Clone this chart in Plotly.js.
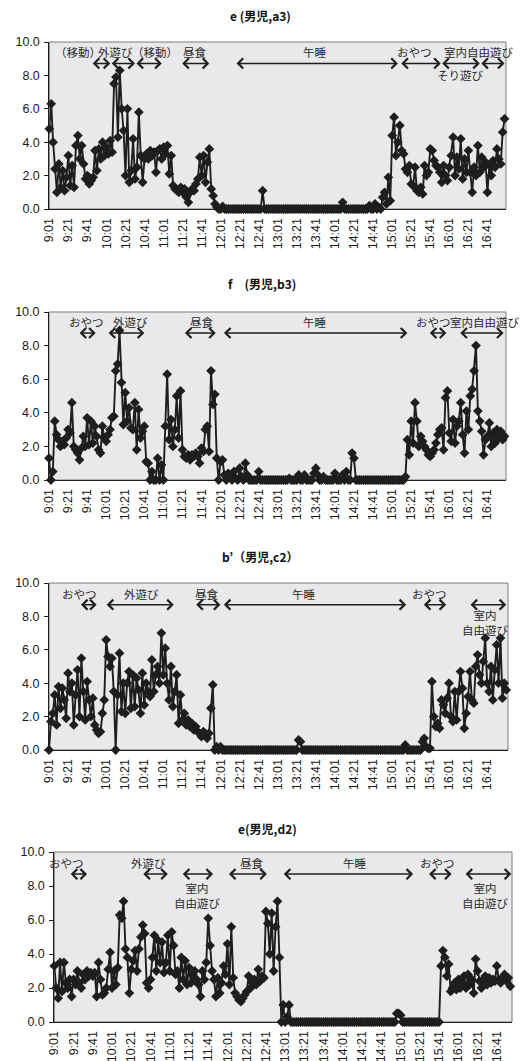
<!DOCTYPE html>
<html><head><meta charset="utf-8">
<script src="https://cdn.plot.ly/plotly-3.0.1.min.js"></script>
<style>html,body{margin:0;padding:0;background:#fff;} #c{width:521px;height:1061px;}</style>
</head><body><div id="c"></div>
<script>
// ---- categories / tick labels ----
const tickLabels = ["9:01","9:21","9:41","10:01","10:21","10:41","11:01","11:21","11:41","12:01","12:21","12:41",
  "13:01","13:21","13:41","14:01","14:21","14:41","15:01","15:21","15:41","16:01","16:21","16:41"];
const tickMinutes = [0,20,40,60,80,100,120,140,160,180,200,220,240,260,280,300,320,340,360,380,400,420,440,460];
const yTicks = [0,2,4,6,8,10];
const stepMinutes = 2; // one value every 2 minutes from 9:01

const titles = ["e (男児,a3)", "f\u3000(男児,b3)", "b’（男児,c2）", "e(男児,d2)"];

// ---- series values ----
const seriesA3 = [
 4.8,6.3,4.0,2.4,1.0,2.7,1.3,2.3,1.1,1.9,
 3.2,1.4,2.6,1.3,3.8,4.4,3.0,3.8,2.7,1.8,
 2.0,1.5,1.7,1.9,3.5,2.3,3.6,3.0,4.0,3.2,
 3.7,3.3,4.1,3.4,7.5,7.9,4.3,8.3,6.0,4.7,
 2.0,6.0,1.6,2.3,4.2,1.8,2.5,5.8,3.2,1.6,
 3.0,3.3,3.0,3.5,3.2,3.4,2.2,3.5,3.6,3.0,
 3.7,3.3,3.8,2.1,3.2,1.4,1.2,1.1,1.0,1.3,
 1.0,1.2,0.7,0.4,1.0,1.2,1.1,1.5,1.8,3.1,
 2.0,3.2,1.6,2.8,3.6,1.2,0.8,0.3,0.1,0,
 0,0.15,0,0,0,0,0,0,0,0,
 0,0,0,0,0,0,0,0,0,0,
 0,0,1.1,0,0,0,0,0,0,0,
 0,0,0,0,0,0,0,0,0,0,
 0,0,0,0,0,0,0,0,0,0,
 0,0,0,0,0,0,0,0,0,0,
 0,0,0,0,0.4,0,0,0,0,0,
 0,0,0,0,0,0,0,0,0.2,0,
 0,0.3,0,0.1,0,0.7,1.0,0.3,1.9,0.5,
 4.4,5.5,3.2,4.0,5.0,3.5,3.3,2.4,2.2,2.6,
 1.5,1.4,2.5,1.1,1.0,1.3,0.9,2.6,2.0,2.2,
 3.6,3.5,2.9,2.6,2.5,2.2,1.6,2.6,2.0,1.7,
 2.5,3.2,4.3,2.0,3.1,2.4,4.2,1.8,3.0,2.2,
 3.5,2.2,1.0,2.5,2.0,3.8,2.2,3.1,2.5,2.8,
 1.0,2.6,2.0,2.9,2.5,3.6,3.0,2.7,4.6,5.4];

const seriesB3 = [
 1.3,0,0.5,3.5,2.7,2.4,2.0,2.3,2.1,2.5,
 3.0,2.8,4.6,2.0,1.8,1.6,1.2,1.9,2.6,2.0,
 3.7,2.1,3.5,2.2,3.2,2.6,1.8,1.6,3.2,2.5,
 2.3,2.7,3.0,3.7,3.8,6.5,6.9,8.9,5.8,3.3,
 5.2,3.5,4.3,3.1,3.0,4.6,1.8,4.2,2.5,2.9,
 3.2,1.1,1.0,0,0.5,0,0,1.3,0,0.9,
 0,3.2,6.3,2.4,3.6,2.0,3.0,5.0,2.5,5.3,
 1.8,1.4,1.3,1.5,1.2,1.5,1.4,1.6,1.4,1.0,
 1.9,1.7,3.0,3.2,1.7,6.5,4.5,5.1,1.3,0,
 1.1,1.2,0.3,0,0.4,0.2,0,0.5,0.1,0,
 0.7,0.2,0,1.0,0.3,0,0,0,0,0,
 0.5,0,0,0,0,0,0,0,0,0,
 0,0,0,0,0,0,0.1,0,0,0,
 0,0.3,0,0,0.3,0,0,0,0,0.4,
 0.7,0.3,0,0,0.2,0,0,0,0,0,
 0.4,0,0,0,0.3,0,0.5,0,0,1.6,
 1.3,0,0,0,0,0,0,0,0,0,
 0,0,0,0,0,0,0,0,0,0,
 0,0,0,0,0,0,0,0.2,2.4,1.5,
 3.5,2.2,4.6,3.5,2.0,2.6,2.3,2.0,1.8,1.5,
 1.4,1.6,1.8,2.2,2.7,3.0,3.1,1.8,4.9,5.3,
 2.8,2.3,3.6,2.2,3.2,3.5,4.6,2.7,1.6,4.1,
 3.0,5.0,5.4,6.5,8.0,4.1,3.5,2.9,1.5,2.4,
 2.6,3.4,2.0,2.8,2.2,3.0,2.5,2.9,2.4,2.6];

const seriesC2 = [
 0,1.7,2.2,3.3,1.5,3.8,2.5,3.7,3.0,1.9,
 4.6,3.5,4.0,1.5,3.3,4.8,2.0,5.5,3.5,1.8,
 4.1,3.0,2.0,3.1,1.5,1.2,1.0,1.1,2.2,3.0,
 6.6,5.6,5.0,5.5,3.5,0,3.3,5.8,2.3,4.0,
 2.2,4.0,4.7,2.5,4.5,2.6,4.3,3.6,2.2,4.6,
 2.7,4.0,3.5,3.2,5.4,3.5,4.5,5.0,4.0,7.0,
 4.5,6.1,4.0,3.0,5.0,2.6,3.5,4.5,1.6,3.3,
 1.8,2.2,1.5,1.8,1.4,1.6,1.2,1.4,1.1,1.0,
 0.8,1.1,1.0,0.7,1.0,2.5,3.9,0,0.2,0,
 0.2,0,0,0,0,0,0,0,0,0,
 0,0,0,0,0,0,0,0,0,0,
 0,0,0,0,0,0,0,0,0,0,
 0,0,0,0,0,0,0,0,0,0,
 0,0.6,0.5,0,0,0,0,0,0,0,
 0,0,0,0,0,0,0,0,0,0,
 0,0,0,0,0,0,0,0,0,0,
 0,0,0,0,0,0,0,0,0,0,
 0,0,0,0,0,0,0,0,0,0,
 0,0,0,0,0,0,0,0.3,0,0,
 0,0,0,0,0,0,0.5,0.7,0.2,0.1,
 0.1,4.1,2.0,1.4,1.6,1.3,3.0,2.7,2.2,3.1,
 4.0,2.0,1.7,3.5,1.8,3.5,4.7,3.7,1.3,2.2,
 3.2,4.7,3.0,2.8,5.0,5.7,4.5,4.0,5.3,6.7,
 4.0,3.5,5.0,3.0,4.8,6.3,4.0,6.7,3.1,4.0,
 3.6];

const seriesD2 = [
 3.3,2.0,1.4,3.5,1.8,3.5,2.3,2.0,2.5,1.5,
 2.5,2.2,3.0,2.3,2.0,2.8,2.5,3.0,2.7,2.9,
 2.7,2.9,1.5,3.5,2.5,1.6,1.7,2.0,3.1,4.1,
 2.0,3.0,2.2,3.2,6.3,6.1,7.1,4.3,3.8,1.7,
 3.1,3.6,4.2,3.0,4.3,5.0,5.7,5.2,2.3,2.0,
 2.5,3.8,5.1,3.0,4.8,3.5,4.7,2.9,3.5,5.1,
 3.0,5.3,4.5,2.8,3.0,2.0,3.8,2.5,3.6,2.2,
 3.2,2.3,2.8,3.0,2.5,2.2,1.5,3.0,2.5,3.5,
 6.1,4.5,3.0,2.5,1.5,2.6,1.7,2.3,3.3,2.8,
 4.6,2.2,5.6,2.6,1.7,1.5,1.3,1.2,1.4,1.6,
 1.8,2.7,2.0,2.3,2.5,2.2,3.1,2.4,2.7,2.6,
 6.5,5.8,4.0,6.4,3.0,5.6,7.1,3.8,0,1.0,
 0,0.3,1.0,0,0,0,0,0,0,0,
 0,0,0,0,0,0,0,0,0,0,
 0,0,0,0,0,0,0,0,0,0,
 0,0,0,0,0,0,0,0,0,0,
 0,0,0,0,0,0,0,0,0,0,
 0,0,0,0,0,0,0,0,0.5,0.5,
 0.4,0,0,0,0,0,0,0,0,0,
 0,0,0,0,0,0,0,0,0,0,
 0,3.3,4.2,3.8,2.7,3.4,1.8,2.0,2.3,1.9,
 2.5,2.0,2.3,2.7,2.0,2.8,2.2,2.5,1.7,3.7,
 3.0,2.4,2.0,2.5,2.7,2.2,2.6,2.3,2.5,2.4,
 3.3,2.5,2.3,2.6,2.8,2.4,2.6,2.1,2.3];

const allSeries = [seriesA3, seriesB3, seriesC2, seriesD2];

// ---- activity labels ----
const activityText = [
 ["（移動）","外遊び","（移動）","昼食","午睡","おやつ","室内自由遊び","そり遊び"],
 ["おやつ","外遊び","昼食","午睡","おやつ","室内自由遊び"],
 ["おやつ","外遊び","昼食","午睡","おやつ","室内<br>自由遊び"],
 ["おやつ","外遊び","室内<br>自由遊び","昼食","午睡","おやつ","室内<br>自由遊び"]
];

// ---- layout configuration (positions in minutes from 9:01 / axis value) ----
const panels = [
 {xd:[49.3,506], yd:[42,209], xmax:479.5, titleY:15, titleX:260,
  lab:[[30,9.4,'c'],[70,9.4,'c'],[111,9.4,'c'],[153,9.4,'c'],[279,9.4,'c'],[383,9.4,'c'],[412,9.4,'l'],[432,8.0,'c']],
  arr:[[44,64],[64,90],[90,118],[138,168],[195,366],[368,411],[411,452],[452,478]], arrY:8.72},
 {xd:[49,506], yd:[312,480], xmax:479.5, titleY:283, titleX:262,
  lab:[[39,9.4,'c'],[85,9.4,'c'],[161,9.4,'c'],[279,9.4,'c'],[403,9.4,'c'],[419,9.4,'l']],
  arr:[[30.5,49],[61,100],[141,175],[182,376],[398,417],[430,477]], arrY:8.75},
 {xd:[49,508], yd:[583,750], xmax:481.9, titleY:556, titleX:260,
  lab:[[31.5,9.36,'c'],[97,9.36,'c'],[166,9.36,'c'],[268,9.36,'c'],[400,9.36,'c'],[458,7.65,'c']],
  arr:[[32,50],[59,131],[153,180],[182,375],[392,417],[441,480]], arrY:8.7},
 {xd:[54.3,512], yd:[852,1022], xmax:475.8, titleY:828, titleX:267,
  lab:[[13,9.35,'c'],[97.5,9.35,'c'],[149,7.45,'c'],[205,9.35,'c'],[313,9.35,'c'],[398,9.35,'c'],[448,7.45,'c']],
  arr:[[15.5,34],[91,118],[132,165],[180,221],[237,373],[388,413],[426,475]], arrY:8.7}
];

const W = 521, H = 1061;
const INK = '#1e1e1e';
const tickFont = {family:'Liberation Sans, Arial, sans-serif', size:12.5, color:'#1a1a1a'};
const jpFont = {family:'Noto Sans CJK JP, sans-serif', size:11.5, color:'#2a2a2a'};

const data = [];
const layout = {
  width:W, height:H, margin:{l:0,r:0,t:0,b:0}, showlegend:false,
  paper_bgcolor:'#ffffff', plot_bgcolor:'#e9e9eb',
  annotations:[], shapes:[]
};

panels.forEach((p, k) => {
  const n = k === 0 ? '' : String(k+1);
  const xa = 'x'+n, ya = 'y'+n;
  const vals = allSeries[k];
  data.push({
    x: vals.map((v,i) => i*stepMinutes), y: vals,
    xaxis: xa, yaxis: ya, type:'scatter', mode:'lines+markers',
    line:{color:INK, width:1.9},
    marker:{symbol:'diamond', size:7.5, color:INK},
    cliponaxis:false, hoverinfo:'skip'
  });
  layout['xaxis'+n] = {
    domain:[p.xd[0]/W, p.xd[1]/W], range:[0,p.xmax], anchor:ya,
    tickvals:tickMinutes, ticktext:tickLabels, tickangle:-90, tickfont:tickFont,
    showgrid:false, zeroline:false, showline:true, linecolor:INK, linewidth:1,
    ticks:'', ticklabelstandoff:3, fixedrange:true
  };
  layout['yaxis'+n] = {
    domain:[1-p.yd[1]/H, 1-p.yd[0]/H], range:[0,10], anchor:xa,
    tickvals:yTicks, tickformat:'.1f', tickfont:tickFont,
    showgrid:false, zeroline:false, showline:true, linecolor:INK, linewidth:1,
    ticks:'outside', ticklen:4, tickcolor:INK, ticklabelstandoff:2, fixedrange:true
  };
  layout.shapes.push({type:'rect', xref:xa+' domain', yref:ya+' domain', x0:0, x1:1, y0:0, y1:1,
    line:{color:'#7a7a7a', width:1}, fillcolor:'rgba(0,0,0,0)', layer:'below'});
  // title
  layout.annotations.push({xref:'paper', yref:'paper', x:p.titleX/W, y:1-p.titleY/H,
    text:'<b>'+titles[k]+'</b>', showarrow:false, xanchor:'center', yanchor:'middle',
    font:{family:'Noto Sans CJK JP, sans-serif', size:12, color:'#111'}});
  // activity labels
  activityText[k].forEach((t, j) => {
    const L = p.lab[j];
    layout.annotations.push({xref:xa, yref:ya, x:L[0], y:L[1], text:t, showarrow:false,
      xanchor: L[2]==='l' ? 'left' : 'center', yanchor:'middle', font:jpFont, align:'center'});
  });
  // double arrows
  p.arr.forEach(a => {
    layout.annotations.push({xref:xa, yref:ya, axref:xa, ayref:ya,
      x:a[1], y:p.arrY, ax:a[0], ay:p.arrY, text:'', showarrow:true,
      arrowside:'end+start', arrowhead:4, startarrowhead:4, arrowsize:1.3, startarrowsize:1.3,
      arrowwidth:1.5, arrowcolor:INK, standoff:0, startstandoff:0});
  });
});

Plotly.newPlot('c', data, layout, {staticPlot:true, displayModeBar:false});
</script>
</body></html>
